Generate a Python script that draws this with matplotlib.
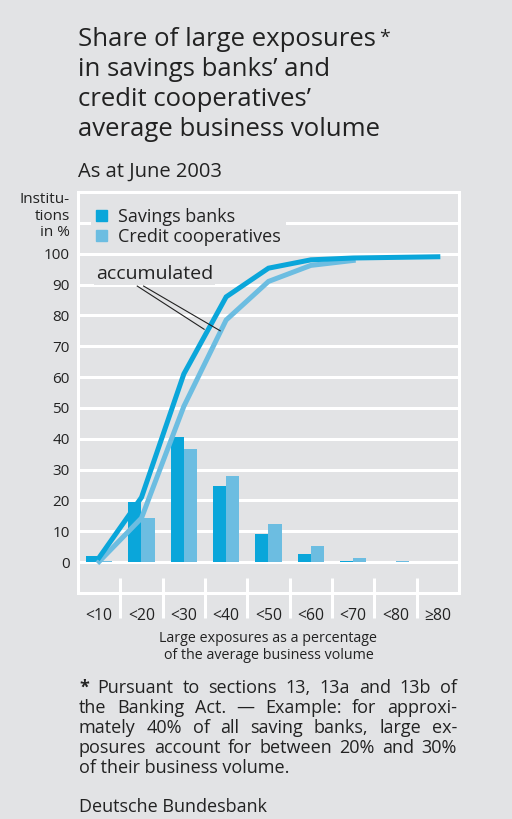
import numpy as np
import matplotlib
matplotlib.use('Agg')
import matplotlib.pyplot as plt
from matplotlib.patches import Patch

# data
categories = ['<10', '<20', '<30', '<40', '<50', '<60', '<70', '<80', '\u226580']
savings = [2.0, 19.5, 40.5, 24.7, 9.0, 2.8, 0.4, 0.0, 0.0]
credit = [0.4, 14.2, 36.6, 27.8, 12.5, 5.1, 1.4, 0.3, 0.0]
savings_acc = [1.5, 21.0, 61.0, 86.0, 95.3, 98.0, 98.6, 98.8, 99.0]
credit_acc = [0.2, 14.3, 50.5, 78.5, 91.0, 96.2, 97.8]
yticks = [0, 10, 20, 30, 40, 50, 60, 70, 80, 90, 100]

BG = '#e2e3e5'
C_SAV = '#0aa6da'
C_CRED = '#6cbde1'
TXT = '#222222'

plt.rcParams['font.family'] = ['Open Sans', 'DejaVu Sans']
plt.rcParams['text.color'] = TXT

fig = plt.figure(figsize=(5.12, 8.19), dpi=100, facecolor=BG)
ax = fig.add_axes([0.1523, 0.2759, 0.7442, 0.4897], facecolor=BG)

x = np.arange(len(categories))
w = 0.31
ax.bar(x - w / 2, savings, w, color=C_SAV, zorder=3)
ax.bar(x + w / 2, credit, w, color=C_CRED, zorder=3)
ax.plot(x[:len(credit_acc)], credit_acc, color=C_CRED, lw=3.6, zorder=4,
        solid_joinstyle='miter')
ax.plot(x, savings_acc, color=C_SAV, lw=3.6, zorder=5, solid_joinstyle='miter')

ax.set_xlim(-0.5, len(categories) - 0.5)
ax.set_ylim(-10, 120)
ax.set_yticks(range(-10, 121, 10))
ax.set_yticklabels(['' if v not in yticks else str(v) for v in range(-10, 121, 10)])
ax.grid(axis='y', color='white', lw=2.2, zorder=1)
ax.set_axisbelow(True)
for s in ax.spines.values():
    s.set_color('white')
    s.set_linewidth(2.2)
ax.tick_params(axis='y', length=0, pad=6, labelsize=11, labelcolor=TXT)
ax.set_xticks(x)
ax.set_xticklabels(categories)
ax.tick_params(axis='x', length=0, pad=11, labelsize=11.3, labelcolor=TXT)

# category separators below the zero line
ax.vlines(x[:-1] + 0.5, -5, -18, color='white', lw=2.2, clip_on=False, zorder=2)

ax.text(-0.021, 1.0, 'Institu-\ntions\nin %', transform=ax.transAxes,
        ha='right', va='top', fontsize=11, linespacing=1.15)

leg = ax.legend(handles=[Patch(color=C_SAV, label='Savings banks'),
                         Patch(color=C_CRED, label='Credit cooperatives')],
                loc='upper left', bbox_to_anchor=(0.01, 0.997), frameon=True,
                facecolor=BG, edgecolor='none', framealpha=1, fancybox=False,
                fontsize=13, handlelength=0.6, handleheight=0.6,
                handletextpad=0.6, labelspacing=0.12, borderpad=0.3)

ax.text(-0.08, 93.5, 'accumulated', fontsize=14, ha='left', va='center',
        zorder=6, bbox=dict(facecolor=BG, edgecolor='none', pad=1.5))
ax.plot([0.9, 2.48], [89.5, 75.5], color=TXT, lw=0.8, zorder=6)
ax.plot([1.05, 2.86], [89.5, 75.0], color=TXT, lw=0.8, zorder=6)

ax.text(0.5, -0.095, 'Large exposures as a percentage\nof the average business volume',
        transform=ax.transAxes, ha='center', va='top', fontsize=10.3, linespacing=1.2)

# title
title_lines = ['Share of large exposures', 'in savings banks\u2019 and',
               'credit cooperatives\u2019', 'average business volume']
for i, line in enumerate(title_lines):
    t = fig.text(0.1523, 1 - (40 + 30 * i) / 819, line, fontsize=18.5,
                 ha='left', va='center')
fig.canvas.draw()
r = fig.canvas.get_renderer()
t0 = fig.texts[0].get_window_extent(r)
fig.text((t0.x1 + 3) / 512, (t0.y1 - 1) / 819, '*', fontsize=14, ha='left', va='top')

fig.text(0.1523, 1 - 172 / 819, 'As at June 2003', fontsize=14.5, ha='left', va='center')

# justified footnote
foot = ['* Pursuant to sections 13, 13a and 13b of',
        'the Banking Act. \u2014 Example: for approxi-',
        'mately 40% of all saving banks, large ex-',
        'posures account for between 20% and 30%',
        'of their business volume.']
left, right = 79 / 512, 457 / 512
for i, line in enumerate(foot):
    yy = 1 - (688 + 20 * i) / 819
    if i == len(foot) - 1:
        fig.text(left, yy, line, fontsize=13, ha='left', va='center')
        continue
    words = line.split(' ')
    arts = [fig.text(0, yy, wd, fontsize=13, ha='left', va='center',
                     fontweight='bold' if wd == '*' else 'normal') for wd in words]
    widths = [a.get_window_extent(r).width / 512 for a in arts]
    gap = (right - left - sum(widths)) / (len(words) - 1)
    pos = left
    for a, wd in zip(arts, widths):
        a.set_x(pos)
        pos += wd + gap

fig.text(0.1543, 1 - 807 / 819, 'Deutsche Bundesbank', fontsize=13, ha='left', va='center')

fig.savefig('out.png', dpi=100, facecolor=BG)
